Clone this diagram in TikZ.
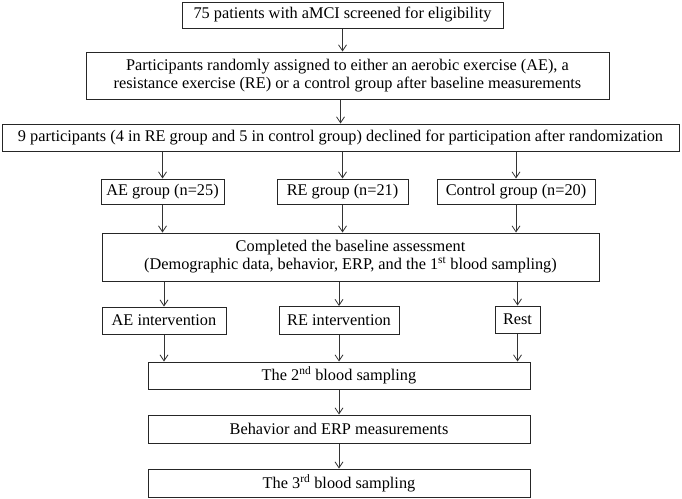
\documentclass[tikz,border=0pt]{standalone}
\usepackage{fontspec}
\setmainfont{Liberation Serif}
\usetikzlibrary{arrows.meta}

\tikzset{
    arr/.style={draw=black!80, line width=0.8pt, ->, >={Straight Barb[length=6pt,width=8pt]}},
}

\begin{document}
\begin{tikzpicture}[x=1pt, y=-1pt]
            \useasboundingbox (0,0) rectangle (682,498);
            \begin{scope}[every node/.style={draw=black!85, line width=1pt, inner sep=0pt, align=center,
                font=\fontsize{16.3}{18}\selectfont}]

                \node[minimum width=321, minimum height=26] (screen) at (342.5,15) {75 patients with aMCI screened for eligibility};
                \node[minimum width=523, minimum height=47] (assign) at (347.5,75.5) {Participants randomly assigned to either an aerobic exercise (AE), a\\resistance exercise (RE) or a control group after baseline measurements};
                \node[minimum width=677, minimum height=27] (decline) at (340.5,137.5) {9 participants (4 in RE group and 5 in control group) declined for participation after randomization};

                \node[minimum width=123, minimum height=25] (ae) at (162.5,191.5) {AE group (n=25)};
                \node[minimum width=131, minimum height=25] (re) at (342.5,191.5) {RE group (n=21)};
                \node[minimum width=158, minimum height=25] (ctrl) at (516,191.5) {Control group (n=20)};

                \node[minimum width=497, minimum height=48] (base) at (350.5,257) {Completed the baseline assessment\\(Demographic data, behavior, ERP, and the 1\textsuperscript{st} blood sampling)};

                \node[minimum width=124, minimum height=27] (aeint) at (164,320.5) {AE intervention};
                \node[minimum width=120, minimum height=28] (reint) at (339,320.5) {RE intervention};
                \node[minimum width=45, minimum height=27] (rest) at (517.5,319.5) {Rest};

                \node[minimum width=382, minimum height=27] (blood2) at (339,375.5) {The 2\textsuperscript{nd} blood sampling};
                \node[minimum width=382, minimum height=28] (behav) at (339,429) {Behavior and ERP measurements};
                \node[minimum width=382, minimum height=28] (blood3) at (339,483) {The 3\textsuperscript{rd} blood sampling};
            \end{scope}
            \draw[arr] (screen.south) -- (screen.south |- assign.north);
            \draw[arr] (assign.south -| decline.north) -- (decline.north);

            \draw[arr] (decline.south -| ae.north) -- (ae.north);
            \draw[arr] (decline.south -| re.north) -- (re.north);
            \draw[arr] (decline.south -| ctrl.north) -- (ctrl.north);

            \draw[arr] (ae.south) -- (ae.south |- base.north);
            \draw[arr] (re.south) -- (re.south |- base.north);
            \draw[arr] (ctrl.south) -- (ctrl.south |- base.north);

            \draw[arr] (base.south -| aeint.north) -- (aeint.north);
            \draw[arr] (base.south -| reint.north) -- (reint.north);
            \draw[arr] (base.south -| rest.north) -- (rest.north);

            \draw[arr] (aeint.south) -- (aeint.south |- blood2.north);
            \draw[arr] (reint.south) -- (reint.south |- blood2.north);
            \draw[arr] (rest.south) -- (rest.south |- blood2.north);

            \draw[arr] (blood2.south) -- (blood2.south |- behav.north);
            \draw[arr] (behav.south) -- (behav.south |- blood3.north);
        \end{tikzpicture}
\end{document}
